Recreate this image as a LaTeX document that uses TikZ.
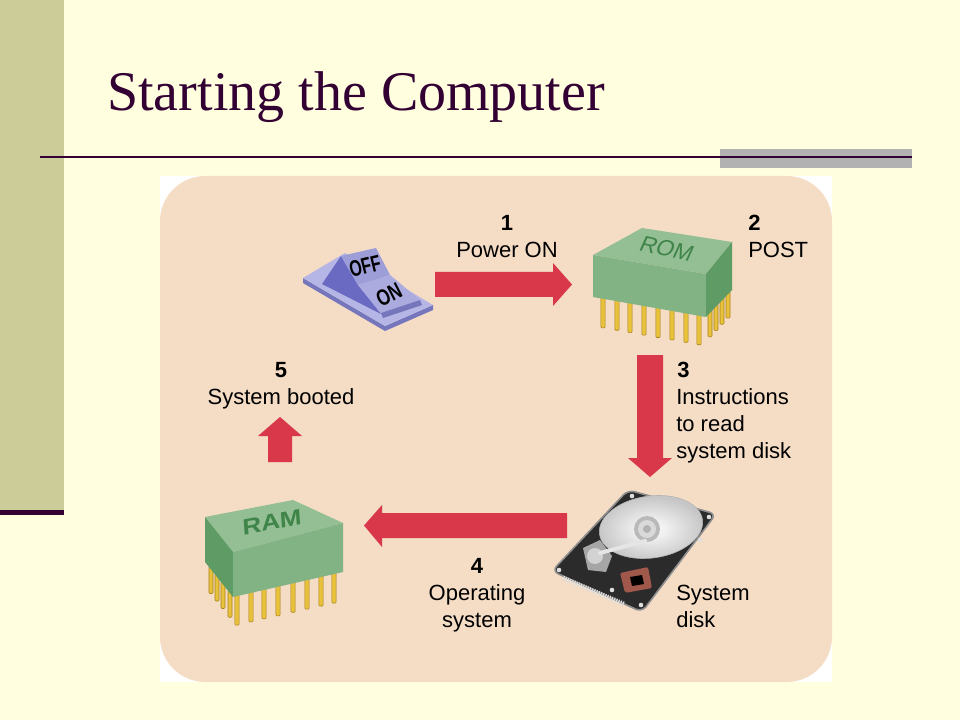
\documentclass[tikz,border=0pt]{standalone}
\usepackage{fontspec}
\setmainfont{Liberation Serif}
\newfontfamily\lab{Liberation Sans}
\definecolor{bgyellow}{HTML}{FFFFE0}
\definecolor{sidebar}{HTML}{CCCC99}
\definecolor{plum}{HTML}{330033}
\definecolor{greybar}{HTML}{B2B2B2}
\definecolor{peach}{HTML}{F4DCC5}
\definecolor{arrowred}{HTML}{D9384B}
\definecolor{pingold}{HTML}{E8C23A}
\definecolor{pinedge}{HTML}{A7801C}
\definecolor{chiptop}{HTML}{94BF95}
\definecolor{chipfront}{HTML}{82B385}
\definecolor{chipside}{HTML}{5F9C65}
\definecolor{chiptext}{HTML}{3F8448}
\definecolor{platetop}{HTML}{B6B6E6}
\definecolor{plateedge}{HTML}{7676BC}
\definecolor{rockside}{HTML}{6A6AC2}
\definecolor{rockoff}{HTML}{9D9DD8}
\definecolor{rockon}{HTML}{ABABDF}
\definecolor{hddark}{HTML}{2B2B2B}
\definecolor{hdrim}{HTML}{8E8E8E}
\definecolor{copper}{HTML}{A0584A}
\begin{document}
\begin{tikzpicture}[x=0.75pt,y=-0.75pt,
  redarrow/.style={fill=arrowred},
  lbl/.style={inner sep=0pt, font=\lab\fontsize{16.5}{20}\selectfont, text=black},
  numlbl/.style={lbl, font=\lab\bfseries\fontsize{16.5}{20}\selectfont},
  pinleg/.style={fill=pingold, draw=pinedge, line width=0.4pt, rounded corners=0.8pt}]
\useasboundingbox (0,0) rectangle (960,720);
% slide background
\fill[bgyellow] (0,0) rectangle (960,720);
\fill[sidebar] (0,0) rectangle (64,510);
\fill[plum] (0,510) rectangle (64,515);
\fill[greybar] (720,149) rectangle (912,168);
\draw[plum, line width=1.5pt] (40,157) -- (912,157);
\node[inner sep=0pt, anchor=base west, text=plum, font=\fontsize{42}{48}\selectfont] (title) at (107,111) {Starting the Computer};
% panel
\fill[white] (160,176) rectangle (832,682);
\fill[peach, rounded corners=34pt] (160,176) rectangle (832,682);

% ---------- switch ----------
\fill[plateedge] (303,278) -- (385,326) -- (433,305) -- (433,310) -- (385,331) -- (303,283) -- cycle;
\fill[platetop] (303,278) -- (345,253) -- (433,305) -- (385,326) -- cycle;
\fill[rockside] (322,284) -- (341,256) -- (358,285) -- (381,314) -- cycle;
\fill[rockoff] (341,256) -- (376,248) -- (390,275) -- (358,285) -- cycle;
\fill[rockon] (358,285) -- (390,275) -- (420,300) -- (381,313) -- cycle;
\fill[plateedge] (381,313) -- (420,300) -- (422,305) -- (383,318) -- cycle;
\node[inner sep=0pt, rotate=14, xscale=0.7, font=\lab\bfseries\fontsize{17}{17}\selectfont] (off) at (365,266) {OFF};
\node[inner sep=0pt, rotate=27, xscale=0.75, font=\lab\bfseries\fontsize{17}{17}\selectfont] (on) at (389,295) {ON};

% ---------- ROM chip ----------
\foreach \x in {710,716,722,728} {
  \pgfmathsetmacro\yt{317-(\x-706)*27/26}
  \filldraw[pinleg] (\x-2,\yt-3) rectangle (\x+2,\yt+24);
}
\foreach \x in {603,617,630,644,658,672,686,699} {
  \pgfmathsetmacro\yt{297+(\x-593)*20/113}
  \filldraw[pinleg] (\x-2.2,\yt-3) rectangle (\x+2.2,\yt+29);
}
\fill[chiptop] (593,255) -- (642,228) -- (732,242) -- (706,274) -- cycle;
\fill[chipfront] (593,255) -- (706,274) -- (706,317) -- (593,297) -- cycle;
\fill[chipside] (706,274) -- (732,242) -- (732,290) -- (706,317) -- cycle;
\node[inner sep=0pt, rotate=-13, xslant=0.2, text=chiptext, font=\lab\fontsize{17}{17}\selectfont] (romlbl) at (667,249) {ROM};

% ---------- RAM chip ----------
\foreach \x in {211,217,223,230} {
  \pgfmathsetmacro\yt{562+(\x-205)*35/28}
  \filldraw[pinleg] (\x-2,\yt-3) rectangle (\x+2,\yt+24);
}
\foreach \x in {237,251,264,278,293,307,321,334} {
  \pgfmathsetmacro\yt{597-(\x-233)*25/110}
  \filldraw[pinleg] (\x-2.2,\yt-3) rectangle (\x+2.2,\yt+29);
}
\fill[chiptop] (205,517) -- (293,500) -- (343,523) -- (233,552) -- cycle;
\fill[chipside] (205,517) -- (233,552) -- (233,597) -- (205,562) -- cycle;
\fill[chipfront] (233,552) -- (343,523) -- (343,572) -- (233,597) -- cycle;
\node[inner sep=0pt, rotate=11, xscale=1.2, xslant=0.1, text=chiptext, font=\lab\bfseries\fontsize{16.5}{16.5}\selectfont] (ramlbl) at (272,522) {RAM};

% ---------- hard disk ----------
\fill[hddark, rounded corners=5pt] (628,490) -- (716,514) -- (642,612) -- (552,571) -- cycle;
\draw[hdrim, line width=1.2pt, rounded corners=5pt] (628,490) -- (716,514) -- (642,612) -- (552,571) -- cycle;
\shade[inner color=white, outer color=gray!45, rotate around={8:(651,527)}] (651,527) ellipse [x radius=52, y radius=31];
\draw[gray!60, line width=0.4pt, rotate around={8:(651,527)}] (651,527) ellipse [x radius=52, y radius=31];
\fill[gray!55] (647,529) circle [radius=13];
\fill[gray!30] (647,529) circle [radius=9];
\fill[gray!60] (647,529) circle [radius=4];
\fill[gray!70] (583,548) -- (600,540) -- (612,556) -- (606,572) -- (588,570) -- cycle;
\fill[gray!35] (595,556) circle [radius=8];
\draw[gray!20, line width=3pt, line cap=round] (600,553) -- (645,541);
\fill[copper, rounded corners=1.5pt] (620,573) -- (648,567) -- (652,588) -- (625,593) -- cycle;
\fill[black] (630,577) -- (642,575) -- (644,584) -- (632,586) -- cycle;
\draw[white!75!gray, line width=3.5pt, dash pattern=on 0.9pt off 0.9pt] (563,578) -- (624,604);
\foreach \p in {(632,496),(709,517),(641,605),(559,570),(700,540),(612,590)}
  \fill[gray!25] \p circle [radius=2.3];

% ---------- arrows ----------
\fill[redarrow] (435,272) -- (553,272) -- (553,263) -- (572,284.5) -- (553,306) -- (553,297) -- (435,297) -- cycle;
\fill[redarrow] (637,355) -- (663,355) -- (663,458) -- (672,458) -- (650,477) -- (628,458) -- (637,458) -- cycle;
\fill[redarrow] (567,513) -- (382,513) -- (382,505) -- (364,525.5) -- (382,547) -- (382,538) -- (567,538) -- cycle;
\fill[redarrow] (268,462) -- (268,436) -- (258,436) -- (280,417) -- (302,436) -- (292,436) -- (292,462) -- cycle;

% ---------- labels ----------
\node[numlbl, anchor=base] (n1) at (507,231) {1};
\node[lbl, anchor=base] (t1) at (507,258) {Power ON};
\node[numlbl, anchor=base west] (n2) at (748,231) {2};
\node[lbl, anchor=base west] (t2) at (748,258) {POST};
\node[numlbl, anchor=base west] (n3) at (677,377) {3};
\node[lbl, anchor=base west] (t3a) at (676,404) {Instructions};
\node[lbl, anchor=base west] (t3b) at (676,431) {to read};
\node[lbl, anchor=base west] (t3c) at (676,458) {system disk};
\node[numlbl, anchor=base] (n4) at (477,573) {4};
\node[lbl, anchor=base] (t4a) at (477,600) {Operating};
\node[lbl, anchor=base] (t4b) at (477,627) {system};
\node[numlbl, anchor=base] (n5) at (281,377) {5};
\node[lbl, anchor=base] (t5) at (281,404) {System booted};
\node[lbl, anchor=base west] (d1) at (676,600) {System};
\node[lbl, anchor=base west] (d2) at (676,627) {disk};
\end{tikzpicture}
\end{document}
